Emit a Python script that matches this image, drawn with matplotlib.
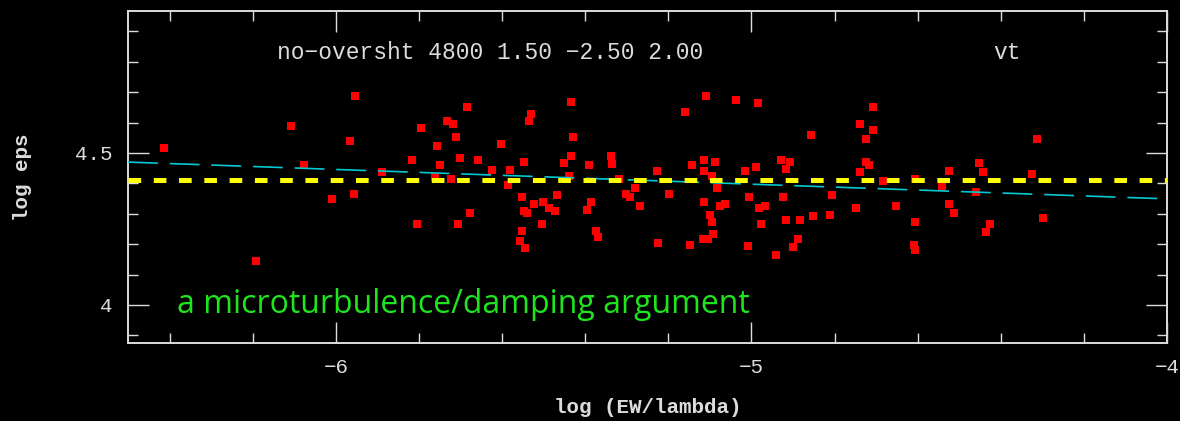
import matplotlib
matplotlib.use('agg')
import matplotlib.pyplot as plt
import numpy as np

# line data: log(EW/lambda) vs log eps
log_ew = [-6.414, -6.107, -6.192, -5.953, -6.077, -5.966, -5.795, -5.733, -5.757, -5.817,
          -5.749, -5.889, -5.761, -5.724, -6.009, -5.957, -5.804, -5.685, -5.719, -5.710,
          -5.701, -5.659, -5.625, -5.582, -5.586, -5.603, -5.531, -5.536, -5.548, -5.433,
          -5.429, -5.433, -5.450, -5.390, -5.438, -5.676, -5.706, -5.553, -5.548, -5.539,
          -5.522, -5.501, -5.488, -5.472, -5.467, -5.505, -5.553, -5.557, -5.544, -5.386,
          -5.395, -5.374, -5.368, -5.109, -5.037, -5.160, -5.339, -5.335, -5.318, -5.228,
          -5.301, -5.292, -5.280, -5.267, -5.198, -5.143, -5.113, -5.088, -5.113, -5.096,
          -5.084, -5.015, -5.006, -5.113, -5.100, -5.096, -5.075, -5.063, -5.092, -5.117,
          -5.104, -5.224, -5.147, -5.009, -4.985, -4.857, -4.708, -4.738, -4.708, -4.725,
          -4.990, -4.930, -4.908, -4.917, -4.725, -4.716, -4.738, -4.683, -4.925, -4.806,
          -4.981, -4.968, -4.748, -4.652, -4.977, -4.917, -4.883, -4.853, -4.810, -4.888,
          -4.900, -4.942, -4.312, -4.452, -4.443, -4.525, -4.606, -4.325, -4.541, -4.460,
          -4.525, -4.512, -4.606, -4.427, -4.435, -4.299, -4.610, -4.606]
log_eps = [4.517, 4.588, 4.146, 4.687, 4.460, 4.540, 4.582, 4.605, 4.524, 4.477,
           4.459, 4.436, 4.420, 4.415, 4.350, 4.366, 4.267, 4.652, 4.594, 4.554,
           4.484, 4.477, 4.444, 4.444, 4.396, 4.530, 4.629, 4.605, 4.471, 4.669,
           4.553, 4.489, 4.466, 4.461, 4.424, 4.304, 4.267, 4.355, 4.309, 4.303,
           4.332, 4.338, 4.320, 4.308, 4.361, 4.267, 4.244, 4.209, 4.187, 4.339,
           4.314, 4.244, 4.225, 4.687, 4.674, 4.634, 4.489, 4.465, 4.416, 4.442,
           4.365, 4.355, 4.384, 4.327, 4.366, 4.459, 4.477, 4.471, 4.442, 4.425,
           4.384, 4.442, 4.355, 4.338, 4.297, 4.273, 4.327, 4.332, 4.234, 4.216,
           4.216, 4.204, 4.198, 4.193, 4.663, 4.558, 4.651, 4.594, 4.576, 4.546,
           4.454, 4.477, 4.471, 4.447, 4.471, 4.459, 4.436, 4.408, 4.355, 4.361,
           4.320, 4.326, 4.320, 4.326, 4.267, 4.280, 4.280, 4.292, 4.297, 4.216,
           4.192, 4.163, 4.547, 4.466, 4.436, 4.442, 4.413, 4.431, 4.389, 4.373,
           4.331, 4.303, 4.273, 4.267, 4.239, 4.285, 4.198, 4.181]

# mean abundance and linear fit
mean_eps = 4.41
fit_x = [-6.5, -4.0]
fit_y = [4.470, 4.349]

xticks = [-6, -5, -4]
yticks = [4, 4.5]
yticklabels = ['4', '4.5']

plt.rcParams['lines.scale_dashes'] = False
fg = '#dcdcdc'
mono = ['Liberation Mono', 'DejaVu Sans Mono']

fig = plt.figure(figsize=(11.8, 4.21), dpi=100, facecolor='black')
ax = fig.add_axes([0.1085, 0.1853, 0.8805, 0.7886], facecolor='black')

rect = [(-4, -5), (4, -5), (4, 5), (-4, 5), (-4, -5)]
ax.plot(log_ew, log_eps, linestyle='none', marker=rect, markersize=6.4,
        color='#ff0000', markeredgewidth=0, zorder=2)
ax.plot(fit_x, fit_y, color='#00c8d2', lw=1.2, dashes=(21.5, 8.5), zorder=3)
ax.axhline(mean_eps, color='#ffff00', lw=3.6, dashes=(9.1, 9.1), zorder=4)

ax.set_xlim(-6.5, -4.0)
ax.set_ylim(3.875, 4.967)

for s in ax.spines.values():
    s.set_color(fg)
    s.set_linewidth(1.4)

ax.set_xticks(xticks)
ax.set_xticklabels(['\u22126', '\u22125', '\u22124'])
ax.set_xticks(np.arange(-6.4, -4.0, 0.2), minor=True)
ax.set_yticks(yticks)
ax.set_yticklabels(yticklabels)
ax.set_yticks(np.arange(3.9, 4.97, 0.1), minor=True)
ax.tick_params(which='both', direction='in', top=True, right=True, color=fg,
               width=1.0, labelcolor=fg, labelsize=15)
ax.tick_params(which='major', length=15, pad=11)
ax.tick_params(which='minor', length=7.5)
for lab in ax.get_xticklabels() + ax.get_yticklabels():
    lab.set_family(mono)

ax.set_xlabel('log (EW/lambda)', color=fg, fontsize=15, family=mono, fontweight='bold')
ax.xaxis.set_label_coords(0.5, -0.165)
ax.set_ylabel('log eps', color=fg, fontsize=15, family=mono, fontweight='bold')
ax.yaxis.set_label_coords(-0.092, 0.5)

ax.text(-6.142, 4.832, 'no\u2212oversht 4800 1.50 \u22122.50 2.00', color=fg,
        fontsize=16.5, family=mono, va='center', ha='left')
ax.text(-4.417, 4.832, 'vt', color=fg, fontsize=16.5, family=mono, va='center', ha='left')

ax.text(-6.383, 3.974, 'a microturbulence/damping argument', color='#1ee61e',
        fontsize=23, family=['Open Sans', 'DejaVu Sans'], va='baseline', ha='left')

fig.savefig('out.png', dpi=100, facecolor='black')
